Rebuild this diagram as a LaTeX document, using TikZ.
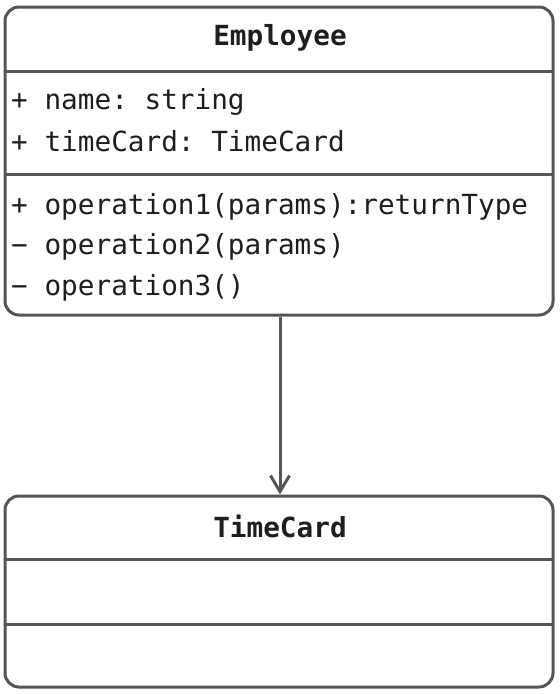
\documentclass[tikz,border=0pt]{standalone}
\usepackage{fontspec}
\setmonofont{DejaVu Sans Mono}
\usepackage{xcolor}
\usetikzlibrary{arrows.meta, positioning}
\definecolor{umlgray}{RGB}{85, 85, 85}
\definecolor{umltext}{RGB}{30, 30, 30}

\begin{document}
\begin{tikzpicture}[x=1pt, y=-1pt,
        font=\ttfamily\fontsize{27.7}{32}\selectfont,
        classbox/.style={draw=umlgray, line width=3pt, rounded corners=14pt,
                         fill=white, inner sep=0pt},
        sepline/.style={umlgray, line width=3pt},
        title/.style={text=umltext, font=\ttfamily\bfseries\fontsize{27.7}{32}\selectfont},
        member/.style={text=umltext, anchor=west, inner sep=0pt},
        link/.style={umlgray, line width=3pt,
                     -{Straight Barb[length=16pt, width=19pt, line width=3pt]}},
      ]
        \path[use as bounding box] (0,0) rectangle (560,694);

        % Employee class
        \node[classbox, minimum width=548pt, minimum height=308pt] (emp) at (279,161) {};
        \node[title] (empname) at (280,38) {Employee};
        \coordinate (ea1) at (5,71);  \coordinate (ea2) at (553,71);
        \coordinate (eb1) at (5,174); \coordinate (eb2) at (553,174);
        \draw[sepline] (ea1) -- (ea2);
        \draw[sepline] (eb1) -- (eb2);
        \node[member] (att1) at (11,102) {+ name: string};
        \node[member] (att2) at (11,141) {+ timeCard: TimeCard};
        \node[member] (op1) at (11,207) {+ operation1(params):returnType};
        \node[member] (op2) at (11,247) {− operation2(params)};
        \node[member] (op3) at (11,288) {− operation3()};

        % TimeCard class
        \node[classbox, minimum width=548pt, minimum height=191pt] (tc) at (279,591.5) {};
        \node[title] (tcname) at (280,526) {TimeCard};
        \coordinate (ta1) at (5,559); \coordinate (ta2) at (553,559);
        \coordinate (tb1) at (5,624); \coordinate (tb2) at (553,624);
        \draw[sepline] (ta1) -- (ta2);
        \draw[sepline] (tb1) -- (tb2);

        \draw[link] (emp.south -| 280,0) -- (tc.north -| 280,0);
      \end{tikzpicture}
\end{document}
